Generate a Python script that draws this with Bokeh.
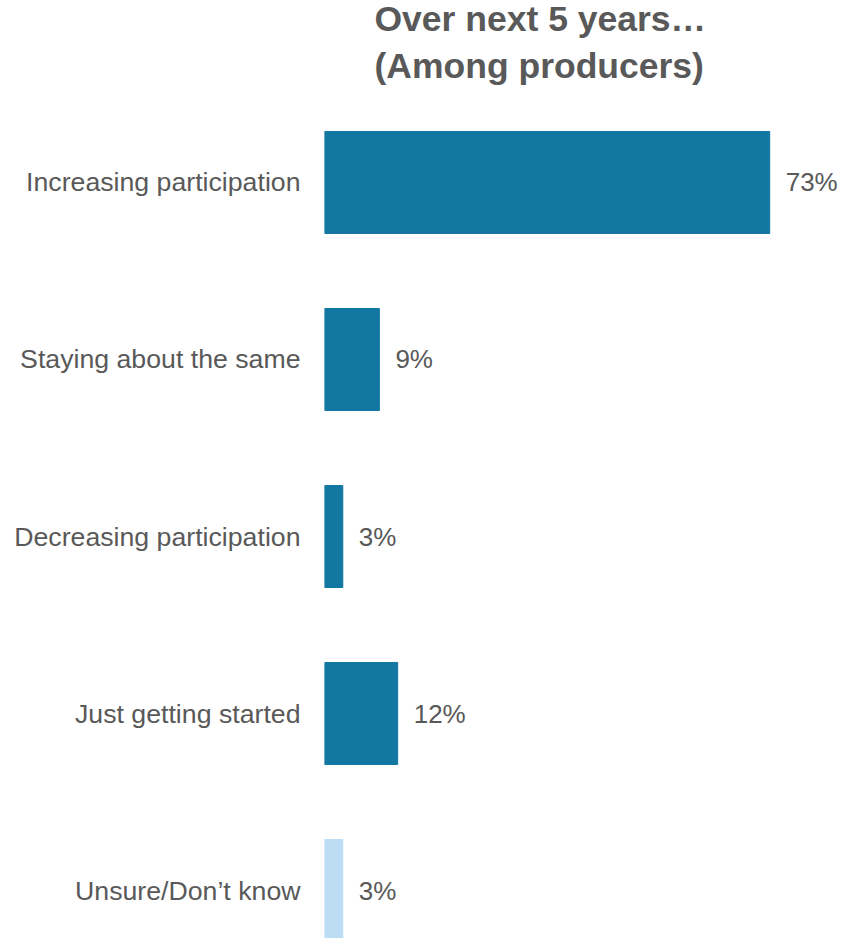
from bokeh.plotting import figure
from bokeh.models import ColumnDataSource, Range1d, FixedTicker, LabelSet, Title
from bokeh.core.properties import value
from bokeh.embed import file_html
from bokeh.resources import INLINE

categories = ["Increasing participation", "Staying about the same", "Decreasing participation",
              "Just getting started", "Unsure/Don\u2019t know"]
values = [73, 9, 3, 12, 3]
colors = ["#1277A1", "#1277A1", "#1277A1", "#1277A1", "#BDDDF5"]
value_labels = [f"{v}%" for v in values]
title_lines = ["Over next 5 years\u2026", "(Among producers)"]

pos = list(range(len(categories)))
src = ColumnDataSource(dict(y=pos, v=values, c=colors, lab=value_labels, cat=categories))

p = figure(width=843, height=938, output_backend="svg", toolbar_location=None,
           x_range=Range1d(0, 85.1), y_range=Range1d(4.271, -0.497),
           min_border_left=324, min_border_right=0, min_border_bottom=0, min_border_top=94)
p.hbar(y="y", left=0, right="v", height=0.576, color="c", source=src)

labels = LabelSet(x="v", y="y", text="lab", source=src, x_offset=16, y_offset=0,
                  text_baseline="middle", text_font=value("Liberation Sans"),
                  text_font_size=value("26px"), text_color="#595959")
p.add_layout(labels)

for i, line in enumerate(reversed(title_lines)):
    t = Title(text=line, align="left", offset=50, text_font="Liberation Sans",
              text_font_size="35.5px", text_font_style="bold", text_color="#595959",
              standoff=17 if i == 0 else -7)
    p.add_layout(t, "above")

p.xaxis.visible = False
p.yaxis.ticker = FixedTicker(ticks=pos)
p.yaxis.major_label_overrides = {i: c for i, c in enumerate(categories)}
p.yaxis.major_label_text_font = "Liberation Sans"
p.yaxis.major_label_text_font_size = "26.7px"
p.yaxis.major_label_text_color = "#595959"
p.yaxis.axis_line_color = None
p.yaxis.major_tick_line_color = None
p.yaxis.minor_tick_line_color = None
p.yaxis.major_label_standoff = 18
p.grid.visible = False
p.outline_line_color = None

open("out.html", "w").write(file_html(p, INLINE))
